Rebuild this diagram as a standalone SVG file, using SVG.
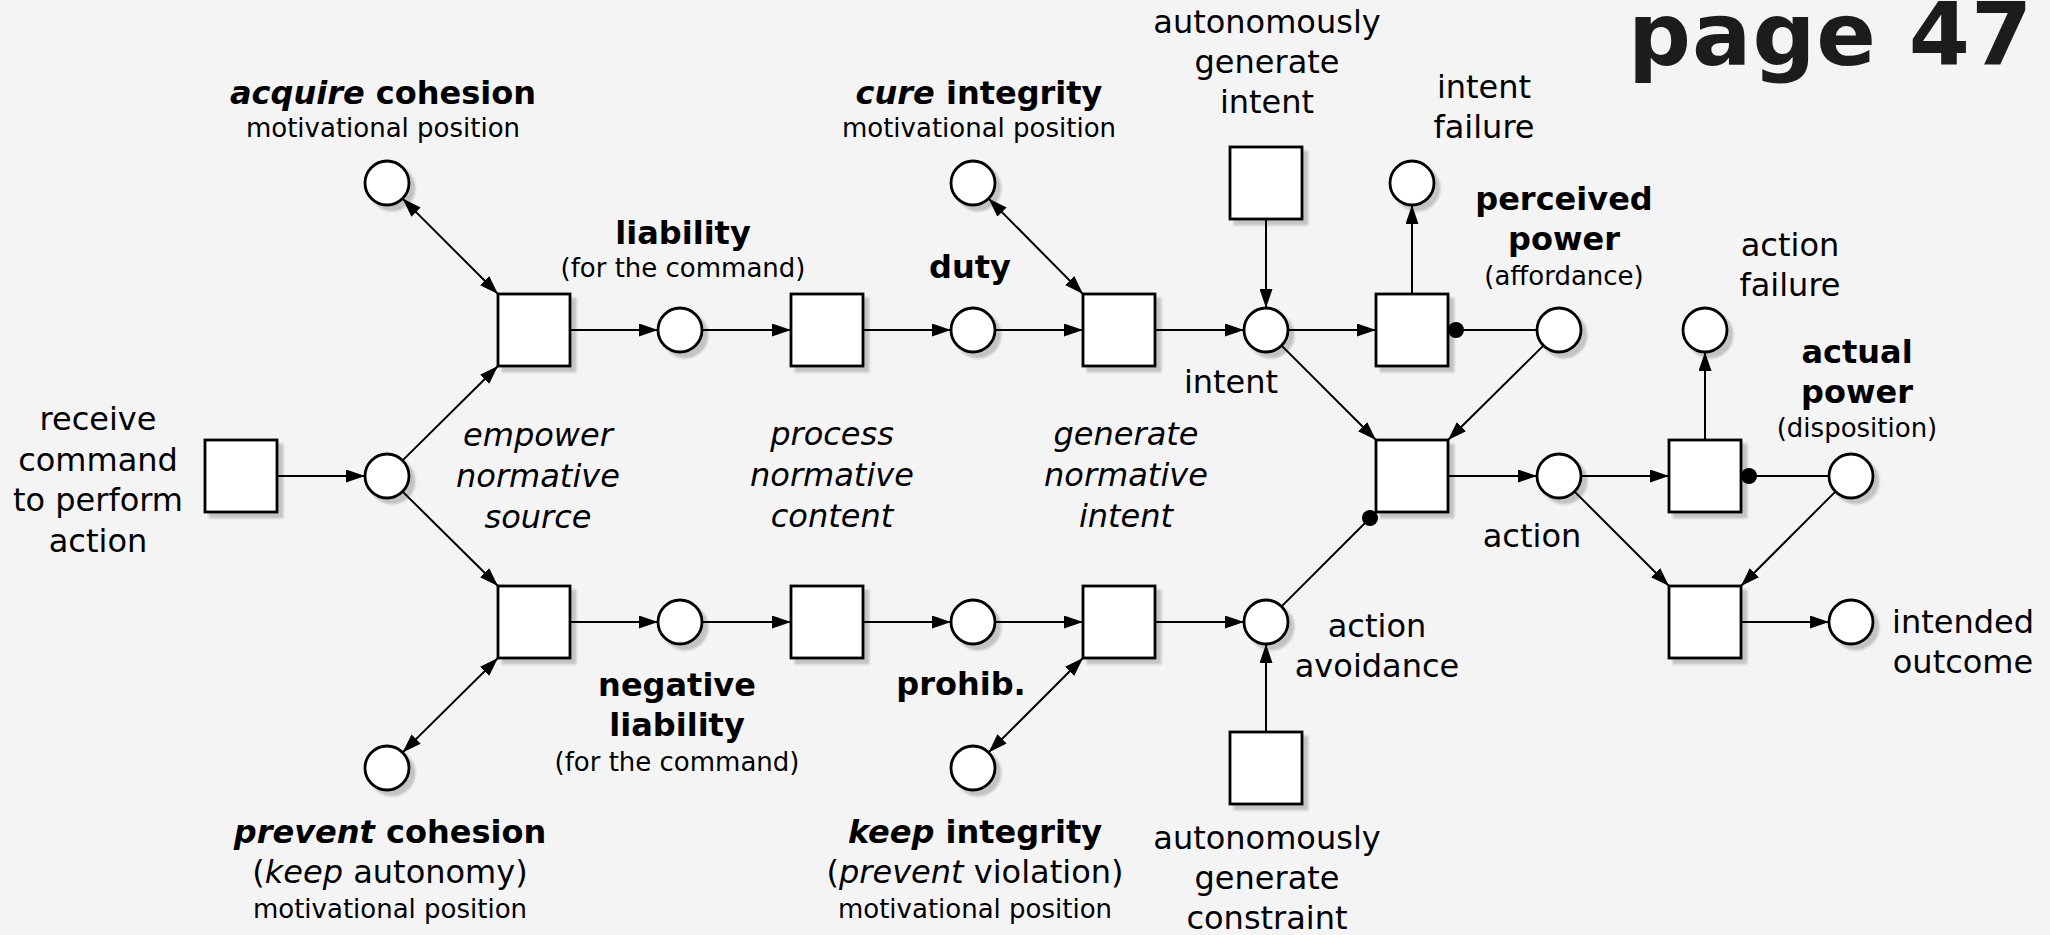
<svg xmlns="http://www.w3.org/2000/svg" width="2050" height="935" viewBox="0 0 2050 935">
<defs>
<style>
.bg{fill:#f4f4f4}
.pl{fill:#fff;stroke:#000;stroke-width:2.8}
.tr{fill:#fff;stroke:#000;stroke-width:2.8}
.nd{filter:url(#sh)}
.e{stroke:#000;stroke-width:2;fill:none;marker-end:url(#ah)}
.b{stroke:#000;stroke-width:2;fill:none;marker-end:url(#ah);marker-start:url(#ahs)}
.i{stroke:#000;stroke-width:2;fill:none;marker-end:url(#dot)}
text{font-family:"DejaVu Sans","Liberation Sans",sans-serif;fill:#000;text-anchor:middle}
.m{font-size:32px}
.bd{font-size:32px;font-weight:bold}
.s{font-size:26px}
.it{font-style:italic}
.pg{font-size:88px;font-weight:bold;fill:#1c1c1c;text-anchor:start;letter-spacing:1px}
</style>
<filter id="sh" x="-20%" y="-20%" width="150%" height="150%">
<feDropShadow dx="5" dy="5" stdDeviation="1.2" flood-color="#000" flood-opacity="0.2"/>
</filter>
<marker id="ah" markerUnits="userSpaceOnUse" markerWidth="20" markerHeight="13" refX="19" refY="6.5" orient="auto">
<path d="M0,0 L19,6.5 L0,13 z" fill="#000"/>
</marker>
<marker id="ahs" markerUnits="userSpaceOnUse" markerWidth="20" markerHeight="13" refX="19" refY="6.5" orient="auto-start-reverse">
<path d="M0,0 L19,6.5 L0,13 z" fill="#000"/>
</marker>
<marker id="dot" markerUnits="userSpaceOnUse" markerWidth="18" markerHeight="18" refX="9" refY="9" orient="auto">
<circle cx="9" cy="9" r="8" fill="#000"/>
</marker>
</defs>
<rect class="bg" x="0" y="0" width="2050" height="935"/>

<text class="pg" x="1628" y="65">page 47</text>

<g id="connectors">
<line class="e" x1="277" y1="476" x2="365" y2="476"/>
<line class="e" x1="402.6" y1="460.4" x2="498" y2="366"/>
<line class="e" x1="402.6" y1="491.6" x2="498" y2="586"/>
<line class="b" x1="402.6" y1="198.6" x2="498" y2="294"/>
<line class="b" x1="402.6" y1="752.4" x2="498" y2="658"/>
<line class="e" x1="570" y1="330" x2="658" y2="330"/>
<line class="e" x1="702" y1="330" x2="791" y2="330"/>
<line class="e" x1="863" y1="330" x2="951" y2="330"/>
<line class="e" x1="995" y1="330" x2="1083" y2="330"/>
<line class="e" x1="1155" y1="330" x2="1244" y2="330"/>
<line class="e" x1="1288" y1="330" x2="1376" y2="330"/>
<line class="e" x1="570" y1="622" x2="658" y2="622"/>
<line class="e" x1="702" y1="622" x2="791" y2="622"/>
<line class="e" x1="863" y1="622" x2="951" y2="622"/>
<line class="e" x1="995" y1="622" x2="1083" y2="622"/>
<line class="e" x1="1155" y1="622" x2="1244" y2="622"/>
<line class="b" x1="988.6" y1="198.6" x2="1083" y2="294"/>
<line class="b" x1="988.6" y1="752.4" x2="1083" y2="658"/>
<line class="e" x1="1266" y1="219" x2="1266" y2="308"/>
<line class="e" x1="1266" y1="732" x2="1266" y2="644"/>
<line class="e" x1="1412" y1="294" x2="1412" y2="205"/>
<line class="i" x1="1537" y1="330" x2="1456" y2="330"/>
<line class="e" x1="1281.6" y1="345.6" x2="1376" y2="440"/>
<line class="e" x1="1543.4" y1="345.6" x2="1448" y2="440"/>
<line class="i" x1="1281.6" y1="606.4" x2="1370" y2="518"/>
<line class="e" x1="1448" y1="476" x2="1537" y2="476"/>
<line class="e" x1="1581" y1="476" x2="1669" y2="476"/>
<line class="e" x1="1705" y1="440" x2="1705" y2="352"/>
<line class="i" x1="1829" y1="476" x2="1749" y2="476"/>
<line class="e" x1="1574.6" y1="491.6" x2="1669" y2="586"/>
<line class="e" x1="1835.4" y1="491.6" x2="1741" y2="586"/>
<line class="e" x1="1741" y1="622" x2="1829" y2="622"/>
</g>

<g id="receive-command" class="nd"><rect class="tr" x="205" y="440" width="72" height="72"/></g>
<text class="m" x="98"><tspan x="98" y="430">receive</tspan><tspan x="98" y="470.5">command</tspan><tspan x="98" y="511">to perform</tspan><tspan x="98" y="551.5">action</tspan></text>

<g id="command-place" class="nd"><circle class="pl" cx="387" cy="476" r="22"/></g>

<g id="acquire-cohesion" class="nd"><circle class="pl" cx="387" cy="183" r="22"/></g>
<text class="bd" x="383" y="104"><tspan class="it">acquire</tspan> cohesion</text>
<text class="s" x="383" y="137">motivational position</text>

<g id="prevent-cohesion" class="nd"><circle class="pl" cx="387" cy="768" r="22"/></g>
<text class="bd" x="390" y="843"><tspan class="it">prevent</tspan> cohesion</text>
<text class="m" x="390" y="883">(<tspan class="it">keep</tspan> autonomy)</text>
<text class="s" x="390" y="918">motivational position</text>

<g id="empower-top" class="nd"><rect class="tr" x="498" y="294" width="72" height="72"/></g>
<g id="empower-bottom" class="nd"><rect class="tr" x="498" y="586" width="72" height="72"/></g>
<text class="m it" x="538"><tspan x="538" y="446">empower</tspan><tspan x="538" y="487">normative</tspan><tspan x="538" y="527.5">source</tspan></text>

<g id="liability" class="nd"><circle class="pl" cx="680" cy="330" r="22"/></g>
<text class="bd" x="683" y="244">liability</text>
<text class="s" x="683" y="277">(for the command)</text>

<g id="negative-liability" class="nd"><circle class="pl" cx="680" cy="622" r="22"/></g>
<text class="bd" x="677"><tspan x="677" y="696">negative</tspan><tspan x="677" y="736">liability</tspan></text>
<text class="s" x="677" y="771">(for the command)</text>

<g id="process-top" class="nd"><rect class="tr" x="791" y="294" width="72" height="72"/></g>
<g id="process-bottom" class="nd"><rect class="tr" x="791" y="586" width="72" height="72"/></g>
<text class="m it" x="832"><tspan x="832" y="445">process</tspan><tspan x="832" y="486">normative</tspan><tspan x="832" y="527">content</tspan></text>

<g id="duty" class="nd"><circle class="pl" cx="973" cy="330" r="22"/></g>
<text class="bd" x="970" y="278">duty</text>

<g id="prohib" class="nd"><circle class="pl" cx="973" cy="622" r="22"/></g>
<text class="bd" x="961" y="695">prohib.</text>

<g id="cure-integrity" class="nd"><circle class="pl" cx="973" cy="183" r="22"/></g>
<text class="bd" x="979" y="104"><tspan class="it">cure</tspan> integrity</text>
<text class="s" x="979" y="137">motivational position</text>

<g id="keep-integrity" class="nd"><circle class="pl" cx="973" cy="768" r="22"/></g>
<text class="bd" x="975" y="843"><tspan class="it">keep</tspan> integrity</text>
<text class="m" x="975" y="883">(<tspan class="it">prevent</tspan> violation)</text>
<text class="s" x="975" y="918">motivational position</text>

<g id="generate-top" class="nd"><rect class="tr" x="1083" y="294" width="72" height="72"/></g>
<g id="generate-bottom" class="nd"><rect class="tr" x="1083" y="586" width="72" height="72"/></g>
<text class="m it" x="1126"><tspan x="1126" y="445">generate</tspan><tspan x="1126" y="486">normative</tspan><tspan x="1126" y="527">intent</tspan></text>

<g id="autonomous-intent" class="nd"><rect class="tr" x="1230" y="147" width="72" height="72"/></g>
<text class="m" x="1267"><tspan x="1267" y="33">autonomously</tspan><tspan x="1267" y="73">generate</tspan><tspan x="1267" y="113">intent</tspan></text>

<g id="intent" class="nd"><circle class="pl" cx="1266" cy="330" r="22"/></g>
<text class="m" x="1231" y="393">intent</text>

<g id="action-avoidance" class="nd"><circle class="pl" cx="1266" cy="622" r="22"/></g>
<text class="m" x="1377"><tspan x="1377" y="637">action</tspan><tspan x="1377" y="677">avoidance</tspan></text>

<g id="autonomous-constraint" class="nd"><rect class="tr" x="1230" y="732" width="72" height="72"/></g>
<text class="m" x="1267"><tspan x="1267" y="849">autonomously</tspan><tspan x="1267" y="889">generate</tspan><tspan x="1267" y="929">constraint</tspan></text>

<g id="intent-check" class="nd"><rect class="tr" x="1376" y="294" width="72" height="72"/></g>
<g id="intent-failure" class="nd"><circle class="pl" cx="1412" cy="183" r="22"/></g>
<text class="m" x="1484"><tspan x="1484" y="98">intent</tspan><tspan x="1484" y="138">failure</tspan></text>

<g id="perceived-power" class="nd"><circle class="pl" cx="1559" cy="330" r="22"/></g>
<text class="bd" x="1564"><tspan x="1564" y="210">perceived</tspan><tspan x="1564" y="250">power</tspan></text>
<text class="s" x="1564" y="285">(affordance)</text>

<g id="act" class="nd"><rect class="tr" x="1376" y="440" width="72" height="72"/></g>

<g id="action" class="nd"><circle class="pl" cx="1559" cy="476" r="22"/></g>
<text class="m" x="1532" y="547">action</text>

<g id="action-check" class="nd"><rect class="tr" x="1669" y="440" width="72" height="72"/></g>
<g id="action-failure" class="nd"><circle class="pl" cx="1705" cy="330" r="22"/></g>
<text class="m" x="1790"><tspan x="1790" y="256">action</tspan><tspan x="1790" y="296">failure</tspan></text>

<g id="actual-power" class="nd"><circle class="pl" cx="1851" cy="476" r="22"/></g>
<text class="bd" x="1857"><tspan x="1857" y="363">actual</tspan><tspan x="1857" y="403">power</tspan></text>
<text class="s" x="1857" y="437">(disposition)</text>

<g id="outcome-transition" class="nd"><rect class="tr" x="1669" y="586" width="72" height="72"/></g>
<g id="intended-outcome" class="nd"><circle class="pl" cx="1851" cy="622" r="22"/></g>
<text class="m" x="1963"><tspan x="1963" y="633">intended</tspan><tspan x="1963" y="673">outcome</tspan></text>
</svg>
